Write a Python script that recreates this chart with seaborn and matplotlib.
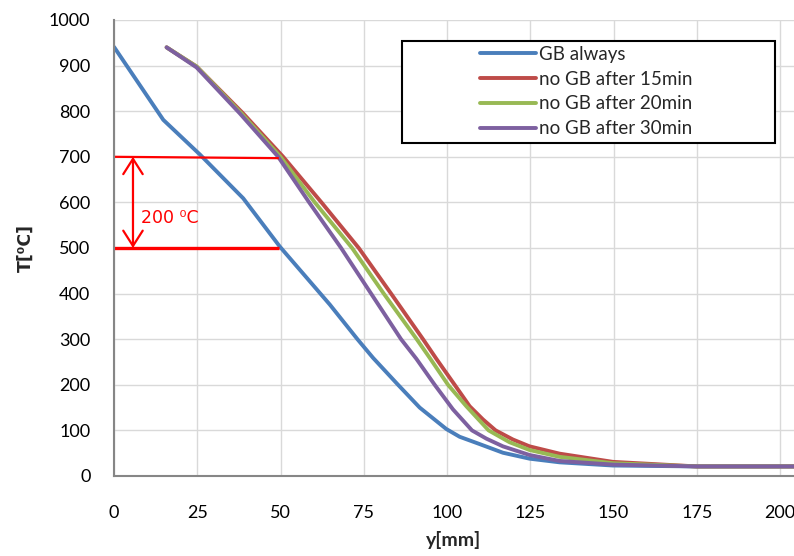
import numpy as np
import pandas as pd
import matplotlib
matplotlib.use("Agg")
import matplotlib.pyplot as plt
from matplotlib.patches import Rectangle
import seaborn as sns

# ---- data ----
x_blue = [0, 14.8, 25.8, 38.8, 49.8, 64.8, 73.1, 77.8, 85.3, 91.8, 99.8,
          103.8, 109.8, 116.8, 124.8, 133.8, 149.8, 175, 205]
t_blue = [941, 781, 705, 609, 503, 376, 300, 259, 200, 150, 103,
          86, 70, 51, 38, 30, 23, 21, 21]

x_15 = [15.8, 24.8, 38.8, 50.8, 62.3, 73.5, 83.2, 92.8, 96.8, 102.3, 106.8,
        110.8, 114.6, 119.8, 124.8, 133.8, 149.8, 175, 205]
t_15 = [940, 898, 795, 700, 600, 500, 400, 300, 257, 200, 153,
        124, 100, 80, 65, 49, 31, 21, 21]

x_20 = [15.8, 24.8, 38.3, 50.0, 60.3, 71.5, 81.0, 90.9, 95.0, 100.3, 105.8,
        112.5, 118.8, 124.8, 133.8, 149.8, 175, 205]
t_20 = [940, 898, 795, 700, 600, 500, 400, 300, 257, 200, 153,
        100, 74, 57, 42, 28, 21, 21]

x_30 = [15.8, 24.8, 37.8, 49.3, 58.6, 68.2, 77.2, 86.2, 90.8, 96.3, 101.8,
        107.5, 111.8, 116.8, 124.8, 133.8, 149.8, 175, 205]
t_30 = [940, 896, 795, 700, 600, 500, 400, 300, 257, 200, 146,
        100, 82, 65, 46, 33, 25, 21, 21]

labels = ["GB always", "no GB after 15min", "no GB after 20min", "no GB after 30min"]
colors = ["#4A7EBB", "#BE4B48", "#98B954", "#7D60A0"]

x_ticks = [0, 25, 50, 75, 100, 125, 150, 175, 200]
y_ticks = [0, 100, 200, 300, 400, 500, 600, 700, 800, 900, 1000]

# annotation values
ann_upper = [700, 697]
ann_lower = [500, 500]
ann_x = [0, 49.5]
arrow_x = 5.7
ann_text = "200 \u2070C"

frames = []
for xs, ts, lab in zip([x_blue, x_15, x_20, x_30], [t_blue, t_15, t_20, t_30], labels):
    frames.append(pd.DataFrame({"y": xs, "T": ts, "series": lab}))
df = pd.concat(frames, ignore_index=True)

sns.set_theme(style="whitegrid")
plt.rcParams["font.family"] = ["Lato", "DejaVu Sans"]

fig = plt.figure(figsize=(7.94, 5.56), dpi=100)
ax = fig.add_axes([114 / 794, 1 - 476 / 556, 680 / 794, 456 / 556])

sns.lineplot(data=df, x="y", y="T", hue="series", hue_order=labels,
             palette=colors, linewidth=2.8, estimator=None, sort=False,
             legend=False, ax=ax)

ax.set_xlim(0, 204.2)
ax.set_ylim(0, 1000)
ax.set_xticks(x_ticks)
ax.set_yticks(y_ticks)
ax.grid(True, color="#D9D9D9", linewidth=1.0)
ax.set_facecolor("white")
for s in ["top", "right"]:
    ax.spines[s].set_visible(False)
for s in ["left", "bottom"]:
    ax.spines[s].set_visible(True)
    ax.spines[s].set_color("#868686")
    ax.spines[s].set_linewidth(1.5)
ax.tick_params(axis="both", length=0, labelsize=13, colors="black")
ax.tick_params(axis="y", pad=17)
ax.tick_params(axis="x", pad=21)

ax.set_xlabel("y[mm]", fontsize=14, fontweight="bold", labelpad=7)
ax.set_ylabel("T[\u2070C]", fontsize=12.5, fontweight="bold", labelpad=10,
              family=["DejaVu Sans"])

# red annotation
ax.plot(ann_x, ann_upper, color="red", linewidth=1.6, solid_capstyle="butt")
ax.plot(ann_x, ann_lower, color="red", linewidth=2.4, solid_capstyle="butt")
ax.annotate("", xy=(arrow_x, ann_lower[0]), xytext=(arrow_x, ann_upper[0]),
            arrowprops=dict(arrowstyle="<->,head_length=0.55,head_width=0.35",
                            color="red", lw=1.6, mutation_scale=20,
                            shrinkA=0, shrinkB=0))
ax.text(arrow_x + 2.5, 566, ann_text, color="red", fontsize=12.5,
        va="center", ha="left", family=["DejaVu Sans"])

# legend
handles = [plt.Line2D([], [], color=c, linewidth=2.8) for c in colors]
leg = ax.legend(handles, labels, loc="upper left",
                bbox_to_anchor=((480 - 114) / 680, (476 - 46) / 456),
                frameon=False, fontsize=13.5, handlelength=3.0,
                handletextpad=0.17, labelspacing=0.41, borderpad=0,
                borderaxespad=0)
ax.add_patch(Rectangle(((402 - 114) / 680, (476 - 143) / 456),
                       (775 - 402) / 680, (143 - 41) / 456,
                       transform=ax.transAxes, fill=True, facecolor="white",
                       edgecolor="black", linewidth=1.5, zorder=4))
leg.set_zorder(5)

fig.savefig("out.png", dpi=100)
